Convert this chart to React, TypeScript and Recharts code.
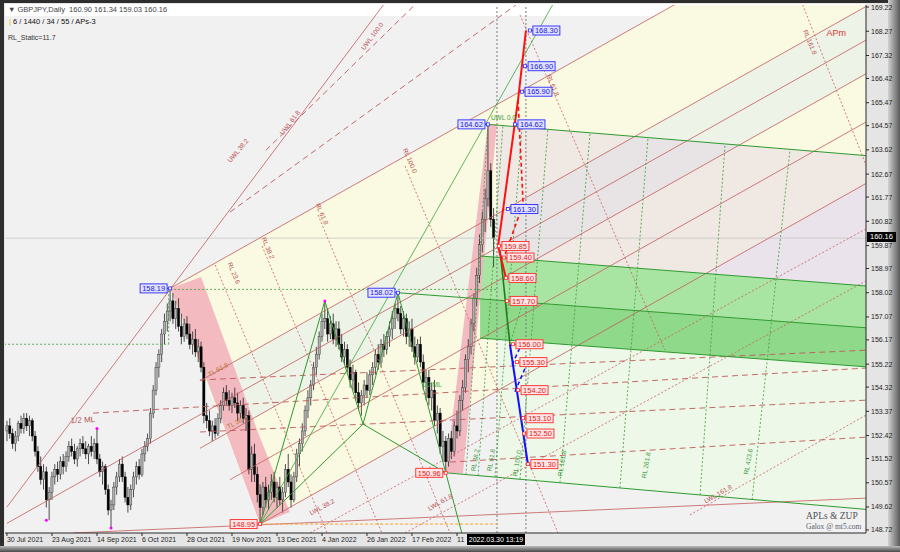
import React from 'react';
import { ComposedChart, Bar, Area, XAxis, YAxis, ReferenceLine, ReferenceDot } from 'recharts';

const FONT = '"Liberation Sans", Arial, sans-serif';

// x axis = bar number (0 = 30 Jul 2021), y axis = price
const dateTicks = [0, 16, 32, 48, 64, 80, 96, 112, 128, 144, 160];
const dateLabels = ['30 Jul 2021', '23 Aug 2021', '14 Sep 2021', '6 Oct 2021', '28 Oct 2021', '19 Nov 2021',
  '13 Dec 2021', '4 Jan 2022', '26 Jan 2022', '17 Feb 2022', '11'];
const priceTicks = [148.72, 149.62, 150.57, 151.52, 152.42, 153.37, 154.32, 155.22, 156.17, 157.07, 158.02,
  158.97, 159.87, 160.82, 161.77, 162.67, 163.62, 164.57, 165.47, 166.42, 167.32, 168.27, 169.22];

// daily bars [open, high, low, close]
const ohlc: number[][] = [
  [152.6, 153.0, 152.2, 152.8], [152.8, 153.1, 152.3, 152.5], [152.5, 152.7, 151.9, 152.1], [152.1, 152.6, 151.8, 152.4],
  [152.4, 153.0, 152.2, 152.9], [152.9, 153.2, 152.5, 152.7], [152.7, 153.3, 152.5, 153.1], [153.1, 153.3, 152.6, 152.8],
  [152.8, 153.2, 152.4, 153.0], [153.0, 153.1, 152.2, 152.4], [152.4, 152.6, 151.6, 151.8], [151.8, 152.0, 151.0, 151.2],
  [151.2, 151.6, 150.5, 150.7], [150.7, 151.3, 150.3, 151.0], [151.0, 151.2, 149.6, 149.9], [149.9, 150.4, 149.1, 150.2],
  [150.2, 151.0, 149.9, 150.8], [150.8, 151.3, 150.5, 151.1], [151.1, 151.4, 150.6, 150.9], [150.9, 151.6, 150.7, 151.4],
  [151.4, 151.7, 150.9, 151.2], [151.2, 151.8, 151.0, 151.6], [151.6, 152.2, 151.4, 152.0], [152.0, 152.3, 151.6, 151.8],
  [151.8, 152.1, 151.3, 151.5], [151.5, 152.0, 151.2, 151.9], [151.9, 152.3, 151.6, 152.1], [152.1, 152.4, 151.7, 151.9],
  [151.9, 152.2, 151.5, 151.7], [151.7, 152.1, 151.3, 152.0], [152.0, 152.4, 151.6, 151.8], [151.8, 152.3, 151.5, 152.1],
  [152.1, 152.7, 151.3, 151.5], [151.5, 151.7, 150.8, 151.0], [151.0, 151.4, 150.5, 151.2], [151.2, 151.3, 150.1, 150.3],
  [150.3, 150.5, 149.3, 149.5], [149.5, 149.9, 148.8, 149.7], [149.7, 150.6, 149.5, 150.4], [150.4, 151.0, 150.1, 150.8],
  [150.8, 151.5, 150.6, 151.3], [151.3, 151.6, 150.6, 150.8], [150.8, 151.0, 149.8, 150.0], [150.0, 150.4, 149.4, 149.7],
  [149.7, 150.5, 149.5, 150.3], [150.3, 151.0, 150.0, 150.8], [150.8, 151.4, 150.5, 151.2], [151.2, 151.5, 150.7, 150.9],
  [150.9, 151.9, 150.8, 151.7], [151.7, 152.2, 151.4, 152.0], [152.0, 152.5, 151.8, 152.3], [152.3, 153.5, 152.1, 153.3],
  [153.3, 154.4, 153.1, 154.2], [154.2, 155.3, 154.0, 155.1], [155.1, 155.8, 154.7, 155.6], [155.6, 156.6, 155.3, 156.4],
  [156.4, 157.2, 156.0, 156.9], [156.9, 157.6, 156.5, 157.3], [157.3, 158.19, 156.9, 157.7], [157.7, 158.0, 156.8, 157.0],
  [157.0, 157.7, 156.6, 157.4], [157.4, 157.8, 156.5, 156.7], [156.7, 157.2, 156.0, 156.3], [156.3, 157.0, 156.1, 156.8],
  [156.8, 157.1, 156.2, 156.4], [156.4, 156.8, 155.8, 156.0], [156.0, 156.5, 155.6, 156.2], [156.2, 156.6, 155.5, 155.7],
  [155.7, 156.2, 155.3, 155.9], [155.9, 156.1, 154.9, 155.1], [155.1, 155.3, 152.9, 153.2], [153.2, 153.7, 152.7, 153.0],
  [153.0, 153.4, 152.4, 152.6], [152.6, 153.0, 152.2, 152.8], [152.8, 153.1, 152.3, 152.5], [152.5, 153.3, 152.4, 153.1],
  [153.1, 153.8, 152.9, 153.6], [153.6, 154.3, 153.4, 154.1], [154.1, 154.4, 153.6, 153.8], [153.8, 154.2, 153.4, 153.6],
  [153.6, 154.1, 153.3, 153.9], [153.9, 154.3, 153.5, 153.7], [153.7, 154.1, 153.0, 153.3], [153.3, 153.8, 153.1, 153.6],
  [153.6, 153.9, 152.9, 153.1], [153.1, 153.5, 152.6, 153.2], [153.2, 153.4, 150.9, 151.1], [151.1, 152.0, 150.6, 151.7],
  [151.7, 152.1, 150.6, 150.9], [150.9, 151.2, 149.8, 150.1], [150.1, 150.5, 148.95, 149.6], [149.6, 150.6, 149.3, 150.4],
  [150.4, 150.8, 149.6, 149.9], [149.9, 150.5, 149.5, 150.2], [150.2, 150.9, 149.9, 150.6], [150.6, 151.0, 149.8, 150.0],
  [150.0, 150.6, 149.6, 150.4], [150.4, 150.8, 149.7, 149.9], [149.9, 150.4, 149.4, 150.2], [150.2, 151.3, 150.0, 151.1],
  [151.1, 151.7, 150.4, 150.6], [150.6, 150.9, 149.6, 149.9], [149.9, 151.0, 149.8, 150.8], [150.8, 151.9, 150.6, 151.7],
  [151.7, 152.3, 151.2, 152.1], [152.1, 152.9, 151.8, 152.6], [152.6, 153.6, 152.4, 153.4], [153.4, 154.2, 153.1, 153.9],
  [153.9, 154.6, 153.6, 154.4], [154.4, 155.3, 154.2, 155.1], [155.1, 155.9, 154.8, 155.6], [155.6, 156.5, 155.4, 156.3],
  [156.3, 157.2, 156.1, 156.9], [156.9, 157.7, 156.6, 157.0], [157.0, 157.4, 156.1, 156.4], [156.4, 157.1, 156.2, 156.8],
  [156.8, 157.2, 156.0, 156.2], [156.2, 156.9, 155.9, 156.6], [156.6, 156.9, 155.8, 156.0], [156.0, 156.4, 155.3, 155.5],
  [155.5, 156.1, 155.2, 155.8], [155.8, 156.0, 154.9, 155.1], [155.1, 155.4, 154.3, 154.6], [154.6, 155.2, 154.2, 154.9],
  [154.9, 155.0, 153.8, 154.1], [154.1, 154.5, 153.4, 153.7], [153.7, 154.2, 153.2, 154.0], [154.0, 154.6, 153.6, 154.4],
  [154.4, 154.9, 153.9, 154.2], [154.2, 155.0, 154.0, 154.8], [154.8, 155.3, 154.4, 155.1], [155.1, 155.8, 154.8, 155.6],
  [155.6, 156.0, 155.0, 155.3], [155.3, 156.2, 155.1, 156.0], [156.0, 156.4, 155.5, 155.8], [155.8, 156.5, 155.6, 156.3],
  [156.3, 156.9, 155.9, 156.6], [156.6, 157.3, 156.2, 157.0], [157.0, 157.6, 156.6, 157.4], [157.4, 158.02, 156.9, 157.2],
  [157.2, 157.5, 156.4, 156.6], [156.6, 157.3, 156.3, 157.0], [157.0, 157.2, 156.0, 156.3], [156.3, 156.9, 155.9, 156.6],
  [156.6, 157.0, 155.7, 155.9], [155.9, 156.3, 155.2, 155.5], [155.5, 156.2, 155.3, 156.0], [156.0, 156.3, 155.1, 155.3],
  [155.3, 155.6, 154.2, 154.5], [154.5, 155.0, 153.8, 154.7], [154.7, 155.0, 153.6, 153.9], [153.9, 154.5, 153.4, 154.2],
  [154.2, 154.6, 152.8, 153.0], [153.0, 153.6, 152.5, 153.3], [153.3, 153.5, 151.7, 152.0], [152.0, 152.6, 151.4, 152.2],
  [152.2, 152.4, 150.96, 151.4], [151.4, 152.5, 151.2, 152.3], [152.3, 152.6, 151.5, 151.8], [151.8, 153.0, 151.6, 152.8],
  [152.8, 153.4, 152.3, 152.6], [152.6, 154.0, 152.4, 153.8], [153.8, 154.6, 153.4, 154.3], [154.3, 155.6, 154.1, 155.4],
  [155.4, 156.2, 154.9, 155.9], [155.9, 157.0, 155.6, 156.8], [156.8, 158.0, 156.5, 157.8], [157.8, 159.0, 157.5, 158.7],
  [158.7, 160.3, 158.4, 159.9], [159.9, 161.2, 159.6, 160.9], [160.9, 162.1, 160.4, 161.7], [161.7, 164.62, 161.4, 162.8],
  [162.8, 163.1, 160.6, 160.9], [160.90, 161.34, 159.03, 160.16],
];

// trend objects: [bar1, price1, bar2, price2]
type Seg = [number, number, number, number];
const forkSolid: Seg[] = [
  [58, 158.19, 306, 173.57], [68.6, 154.56, 306, 169.28], [0, 148.98, 306, 167.96], [68.6, 151.92, 306, 166.64],
  [79.3, 150.69, 306, 164.75], [90, 148.95, 306, 162.34], [0, 149.62, 136.2, 169.65], [23.5, 148.6, 306, 149.97],
];
const forkDashed: Seg[] = [
  [92, 163.6, 146.8, 169.5], [79.3, 161.18, 182.4, 169.42], [30.6, 153.3, 306, 155.07],
  [68.6, 154.6, 306, 155.77], [68.6, 152.56, 306, 153.81], [157.5, 151.38, 306, 152.36],
];
const redDotted: Seg[] = [
  [74, 159.11, 113.8, 148.6], [90.7, 159.85, 133.3, 148.6], [110.6, 161.07, 157.5, 148.6],
  [141.5, 162.99, 195.9, 148.6], [276.6, 171.06, 306.8, 162.64], [182.4, 168.91, 233.9, 155.77],
  [107.7, 148.6, 306, 160.56], [141.5, 148.6, 306, 158.52], [242.8, 149.31, 306, 153.26],
];
const greenSolid: Seg[] = [
  [90, 148.95, 113, 157.7], [113, 157.7, 126.6, 152.87], [126.6, 152.87, 139, 158.02], [139, 158.02, 161.7, 148.6],
  [90, 148.95, 126.6, 152.87], [126.6, 152.87, 156, 150.96], [171, 164.62, 306, 163.39], [156, 150.96, 306, 149.52],
  [168.2, 159.46, 306, 158.28], [139, 158.02, 306, 156.64], [168.2, 156.24, 306, 155.11],
];
const greenThin: Seg[] = [[90, 148.95, 196, 169.7], [175.3, 159.69, 178.8, 156.0]];
const greenDotted: Seg[] = [
  [163.2, 150.89, 171, 164.62], [167.5, 150.85, 176.3, 164.57], [173.5, 150.79, 183.1, 164.51],
  [182.4, 150.71, 192.3, 164.43], [196.6, 150.57, 207.3, 164.29], [217.9, 150.37, 227.9, 164.1],
  [246.4, 150.09, 255.3, 163.85], [264.9, 149.91, 278.4, 163.64],
  [58, 158.15, 174.2, 158.15], [-1, 156.0, 57.5, 156.0], [57.5, 156.0, 57.5, 158.15], [178.8, 156.0, 183.5, 157.69],
];
const orangeDotted: Seg[] = [[90, 148.95, 174.2, 148.95]];
const zupRed: Seg[] = [[174.6, 159.85, 181.7, 165.58], [181.7, 165.58, 184.5, 168.3], [174.6, 159.85, 177.4, 158.6]];
const zupRedDash: Seg[] = [[181.7, 165.58, 183.5, 161.5], [183.5, 161.5, 176.7, 159.4]];
const zupBlue: Seg[] = [[178.8, 156.0, 185.2, 151.3]];
const zupBlueDash: Seg[] = [[179.6, 155.2, 182.4, 155.87], [180.6, 154.14, 184.2, 155.06]];
const timeMarks = [174.2, 184.5];

// shaded zones as price ranges along the bar axis
type Pt = { i: number; r: [number, number] };
const zoneYellow: Pt[] = [{ i: 58, r: [158.19, 158.19] }, { i: 90, r: [148.95, 160.17] }, { i: 306, r: [162.34, 173.57] }];
const zoneStripe: Pt[] = [{ i: 70.9, r: [154.65, 154.65] }, { i: 78.4, r: [152.52, 155.16] }, { i: 306, r: [166.64, 169.28] }];
const zoneMauve: Pt[] = [{ i: 174.2, r: [159.41, 164.59] }, { i: 306, r: [158.28, 163.39] }];
const zoneMint: Pt[] = [{ i: 174.2, r: [150.79, 156.19] }, { i: 306, r: [149.52, 155.11] }];
const bandLight: Pt[] = [{ i: 168.2, r: [157.78, 159.46] }, { i: 306, r: [156.64, 158.28] }];
const bandDark: Pt[] = [{ i: 168.2, r: [156.24, 157.78] }, { i: 306, r: [155.11, 156.64] }];
const pinkA: Pt[] = [{ i: 58, r: [158.19, 158.19] }, { i: 69, r: [155.21, 158.64] }, { i: 90, r: [148.95, 152.32] }, { i: 100.6, r: [149.42, 149.42] }];
const pinkB: Pt[] = [{ i: 156, r: [150.96, 150.96] }, { i: 162.1, r: [150.93, 156.51] }, { i: 171, r: [161.0, 164.62] }, { i: 174.2, r: [164.62, 164.62] }];

type Tag = { i: number; p: number; side: 'left' | 'right' };
const blueTags: Tag[] = [
  { i: 58, p: 158.19, side: 'left' }, { i: 139, p: 158.02, side: 'left' }, { i: 171, p: 164.62, side: 'left' },
  { i: 180.6, p: 164.62, side: 'right' }, { i: 185.9, p: 168.3, side: 'right' }, { i: 184.2, p: 166.9, side: 'right' },
  { i: 183.1, p: 165.9, side: 'right' }, { i: 178.1, p: 161.3, side: 'right' },
];
const redTags: Tag[] = [
  { i: 90, p: 148.95, side: 'left' }, { i: 156, p: 150.96, side: 'left' }, { i: 174.9, p: 159.85, side: 'right' },
  { i: 176.7, p: 159.4, side: 'right' }, { i: 177.4, p: 158.6, side: 'right' }, { i: 177.8, p: 157.7, side: 'right' },
  { i: 179.9, p: 156.0, side: 'right' }, { i: 181.3, p: 155.3, side: 'right' }, { i: 181.7, p: 154.2, side: 'right' },
  { i: 183.5, p: 153.1, side: 'right' }, { i: 183.8, p: 152.5, side: 'right' }, { i: 185.2, p: 151.3, side: 'right' },
];
const pivots = [[14, 149.1], [32, 152.7], [37, 148.8], [58, 158.19], [113, 157.7], [139, 158.02]];

type Note = { i: number; p: number; t: string; a: number; c: string; s?: number };
const notes: Note[] = [
  { i: 129.8, p: 168.08, t: 'UWL 100.0', a: -53, c: '#b85050' },
  { i: 100.6, p: 164.69, t: 'UWL 61.8', a: -53, c: '#b85050' },
  { i: 82.1, p: 163.59, t: 'UWL 38.2', a: -50, c: '#b85050' },
  { i: 143.3, p: 163.2, t: 'RL 100.0', a: 67, c: '#b85050' },
  { i: 112, p: 161.11, t: 'RL 61.8', a: 67, c: '#b85050' },
  { i: 92.8, p: 159.77, t: 'RL 38.2', a: 67, c: '#b85050' },
  { i: 80.7, p: 158.79, t: 'RL 23.6', a: 67, c: '#b85050' },
  { i: 285.5, p: 167.84, t: 'RL 161.8', a: 68, c: '#b85050' },
  { i: 194.1, p: 166.15, t: 'RL 61.8', a: 67, c: '#b85050' },
  { i: 75, p: 155.01, t: 'TL 61.8', a: -29, c: '#b8742e' },
  { i: 81.8, p: 152.96, t: 'TL 38.2', a: -29, c: '#b8742e' },
  { i: 112, p: 149.62, t: 'LWL 38.2', a: -28, c: '#b85050' },
  { i: 154, p: 149.81, t: 'LWL 61.8', a: -30, c: '#b85050' },
  { i: 252.8, p: 150.13, t: 'LWL 161.8', a: -30, c: '#b85050' },
  { i: 27, p: 153.04, t: '1/2 ML', a: -3, c: '#b05050', s: 8 },
  { i: 151, p: 154.4, t: '1/2 ML', a: 0, c: '#3a9a3a' },
  { i: 176.5, p: 164.9, t: 'UWL 0.0', a: 0, c: '#3a9a3a' },
  { i: 166.4, p: 151.46, t: 'RL 38.2', a: -80, c: '#3a9a3a' },
  { i: 172.1, p: 151.46, t: 'RL 61.8', a: -80, c: '#3a9a3a' },
  { i: 181.3, p: 151.34, t: 'RL 100.0', a: -80, c: '#3a9a3a' },
  { i: 197.3, p: 151.34, t: 'RL 161.8', a: -80, c: '#3a9a3a' },
  { i: 227.2, p: 151.26, t: 'RL 261.8', a: -80, c: '#3a9a3a' },
  { i: 263.5, p: 151.4, t: 'RL 423.6', a: -80, c: '#3a9a3a' },
  { i: 294.8, p: 168.2, t: 'APm', a: 0, c: '#e03333', s: 9 },
];

const rows = ohlc.map(([o, h, l, c], i) => ({ i, o, h, l, c }));
const lastClose = ohlc[ohlc.length - 1][3];

function Candle(props: any) {
  const { x, y, width, height, payload } = props;
  if (!payload || !isFinite(y) || !isFinite(height)) return null;
  const { o, h, l, c } = payload;
  const top = Math.min(y, y + height);
  const hh = Math.abs(height);
  const mid = x + width / 2;
  const k = hh / (h - l);
  const yo = top + (h - o) * k;
  const yc = top + (h - c) * k;
  const up = c >= o;
  return (
    <g>
      <line x1={mid} x2={mid} y1={top} y2={top + hh} stroke="#222" strokeWidth={0.8} />
      <rect x={mid - 1.1} y={Math.min(yo, yc)} width={2.2} height={Math.max(0.8, Math.abs(yc - yo))}
        fill={up ? '#b0b0b0' : '#000'} stroke={up ? '#3a3a3a' : '#000'} strokeWidth={0.45} />
    </g>
  );
}

const tagShape = (t: Tag, blue: boolean) => (p: any) => {
  const { cx, cy } = p;
  const w = 27, h = 9;
  const border = blue ? '#2a2aff' : '#ff2a2a';
  const fill = blue ? '#e2e2ff' : '#ffe6e6';
  const txt = blue ? '#1818e0' : '#e01818';
  const bx = t.side === 'left' ? cx - 3 - w : cx + 3;
  return (
    <g>
      <line x1={cx} y1={cy} x2={t.side === 'left' ? bx + w : bx} y2={cy} stroke={border} strokeWidth={1} />
      <rect x={cx - 1.5} y={cy - 1.5} width={3} height={3} fill="#fff" stroke={border} strokeWidth={0.8} />
      <rect x={bx} y={cy - h / 2} width={w} height={h} fill={fill} stroke={border} strokeWidth={0.9} />
      <text x={bx + w / 2} y={cy} dy="0.36em" textAnchor="middle" fontSize={7.5} fontFamily={FONT} fill={txt}>
        {t.p.toFixed(2)}
      </text>
    </g>
  );
};

const noteShape = (n: Note) => (p: any) => (
  <text x={p.cx} y={p.cy} dy="0.35em" textAnchor="middle" fontSize={n.s ?? 6.5} fontFamily={FONT} fill={n.c}
    transform={`rotate(${n.a} ${p.cx} ${p.cy})`}>{n.t}</text>
);

const DateTick = (p: any) => {
  const k = dateTicks.indexOf(p.payload.value);
  return (
    <text x={p.x} y={p.y + 4} textAnchor="start" fontSize={7} fontFamily={FONT} fill="#1e1e1e">{dateLabels[k]}</text>
  );
};

const seg = (s: Seg, key: string, stroke: string, w: number, dash?: string) => (
  <ReferenceLine key={key} segment={[{ x: s[0], y: s[1] }, { x: s[2], y: s[3] }]} stroke={stroke}
    strokeWidth={w} strokeDasharray={dash} ifOverflow="hidden" />
);

const zone = (d: Pt[], fill: string, key: string, op = 1) => (
  <Area key={key} data={d} dataKey="r" type="linear" stroke="none" fill={fill} fillOpacity={op}
    dot={false} activeDot={false} isAnimationActive={false} />
);

const abs = (l: number, t: number, w: number, h: number, extra: React.CSSProperties = {}): React.CSSProperties =>
  ({ position: 'absolute', left: l, top: t, width: w, height: h, ...extra });

export default function App() {
  return (
    <div style={abs(0, 0, 900, 552, { background: '#e5e5e5', overflow: 'hidden', fontFamily: FONT })}>
      <div style={abs(5, 5, 861, 528, { background: '#f1f1f1' })} />
      <div style={abs(5, 4, 861, 12, { background: '#ffffff' })} />
      <div style={abs(0, 0, 900, 3, { background: '#2e2e2e' })} />
      <div style={abs(0, 0, 4, 552, { background: '#2e2e2e' })} />
      <div style={abs(888, 0, 12, 552, { background: 'linear-gradient(to right, #d2d2d2, #585858)' })} />
      <div style={abs(0, 546, 900, 6, { background: 'linear-gradient(to bottom, #bcbcbc, #484848)' })} />
      <div style={abs(0, 0, 900, 552)}>
        <ComposedChart width={900} height={552} data={rows} margin={{ top: 5, right: 0, bottom: 0, left: 5 }}>
          <XAxis dataKey="i" type="number" domain={[-0.7, 305.4]} allowDataOverflow ticks={dateTicks} interval={0}
            tick={DateTick} tickSize={3} height={19} stroke="#2a2a2a" />
          <YAxis orientation="right" type="number" domain={[148.6, 169.3]} allowDataOverflow ticks={priceTicks}
            interval={0} width={34} tickSize={3} stroke="#2a2a2a" tickFormatter={(v: number) => v.toFixed(2)}
            tick={{ fontSize: 7, fill: '#1e1e1e', fontFamily: FONT }} />
          {zone(zoneYellow, '#fafae2', 'zy')}
          {zone(zoneStripe, '#edf3e6', 'zs')}
          {zone(zoneMauve, '#e2d2e4', 'zm', 0.45)}
          {zone(zoneMint, '#edf8e8', 'zn')}
          {zone(bandLight, '#a9e5a2', 'bl')}
          {zone(bandDark, '#8fd98a', 'bd')}
          {zone(pinkA, '#f2b3bd', 'pa', 0.9)}
          {zone(pinkB, '#f2b3bd', 'pb', 0.9)}
          <ReferenceLine y={lastClose} stroke="#c6c6c6" strokeWidth={0.8} />
          {timeMarks.map((t, k) => (
            <ReferenceLine key={'tm' + k} x={t} stroke="#7a7a7a" strokeWidth={1} strokeDasharray="2 2" />
          ))}
          {forkSolid.map((s, k) => seg(s, 'fs' + k, '#c45c5c', 0.8))}
          {forkDashed.map((s, k) => seg(s, 'fd' + k, '#c05858', 0.9, '6 4'))}
          {redDotted.map((s, k) => seg(s, 'rd' + k, '#cc5a5a', 0.8, '2 2'))}
          {greenSolid.map((s, k) => seg(s, 'gs' + k, '#2f9a2f', 1))}
          {greenThin.map((s, k) => seg(s, 'gt' + k, k === 1 ? '#1f7a1f' : '#3aa63a', k === 1 ? 1.6 : 0.8))}
          {greenDotted.map((s, k) => seg(s, 'gd' + k, '#3a9a3a', 0.8, '2 2'))}
          {orangeDotted.map((s, k) => seg(s, 'od' + k, '#ffa020', 1, '3 2'))}
          <Bar dataKey={(d: any) => [d.l, d.h]} barSize={2} shape={Candle} isAnimationActive={false} />
          {zupRed.map((s, k) => seg(s, 'zr' + k, '#ff1010', 2))}
          {zupRedDash.map((s, k) => seg(s, 'zd' + k, '#ff1010', 1.6, '4 3'))}
          {zupBlue.map((s, k) => seg(s, 'zb' + k, '#1010ff', 2))}
          {zupBlueDash.map((s, k) => seg(s, 'ze' + k, '#1010ff', 1.5, '4 3'))}
          {pivots.map((v, k) => (
            <ReferenceDot key={'pv' + k} x={v[0]} y={v[1]} r={1.5} fill="#ff00ff" stroke="none" ifOverflow="visible" />
          ))}
          {notes.map((n, k) => (
            <ReferenceDot key={'nt' + k} x={n.i} y={n.p} r={0} ifOverflow="visible" shape={noteShape(n)} />
          ))}
          {blueTags.map((t, k) => (
            <ReferenceDot key={'bt' + k} x={t.i} y={t.p} r={0} ifOverflow="visible" shape={tagShape(t, true)} />
          ))}
          {redTags.map((t, k) => (
            <ReferenceDot key={'rt' + k} x={t.i} y={t.p} r={0} ifOverflow="visible" shape={tagShape(t, false)} />
          ))}
        </ComposedChart>
      </div>
      <div style={abs(8, 5, 400, 10, { fontSize: 7.5, color: '#444', lineHeight: '10px', whiteSpace: 'pre' })}>
        {'▼ GBPJPY,Daily  160.90 161.34 159.03 160.16'}
      </div>
      <div style={abs(9, 17, 300, 10, { fontSize: 7.5, color: '#111', lineHeight: '10px', whiteSpace: 'pre' })}>
        <span style={{ color: '#d8c200' }}>|</span>{' 6 / 1440 / 34 / 55 / APs-3'}
      </div>
      <div style={abs(8, 33, 200, 10, { fontSize: 7, color: '#333', lineHeight: '10px' })}>RL_Static=11.7</div>
      <div style={abs(806, 511, 60, 11, { fontSize: 9.5, color: '#505050', fontFamily: '"Liberation Serif", serif', lineHeight: '11px', whiteSpace: 'nowrap' })}>
        APLs &amp; ZUP
      </div>
      <div style={abs(806, 522, 60, 10, { fontSize: 7.5, color: '#5a6070', fontFamily: '"Liberation Serif", serif', lineHeight: '10px', whiteSpace: 'nowrap' })}>
        Galox @ mt5.com
      </div>
      <div style={abs(867, 232, 29, 10, { background: '#000', color: '#fff', fontSize: 7.5, lineHeight: '10px', textAlign: 'center' })}>
        {lastClose.toFixed(2)}
      </div>
      <div style={abs(467, 534, 58, 11, { background: '#000', color: '#fff', fontSize: 7, lineHeight: '11px', textAlign: 'center', whiteSpace: 'nowrap' })}>
        2022.03.30 13:19
      </div>
    </div>
  );
}
